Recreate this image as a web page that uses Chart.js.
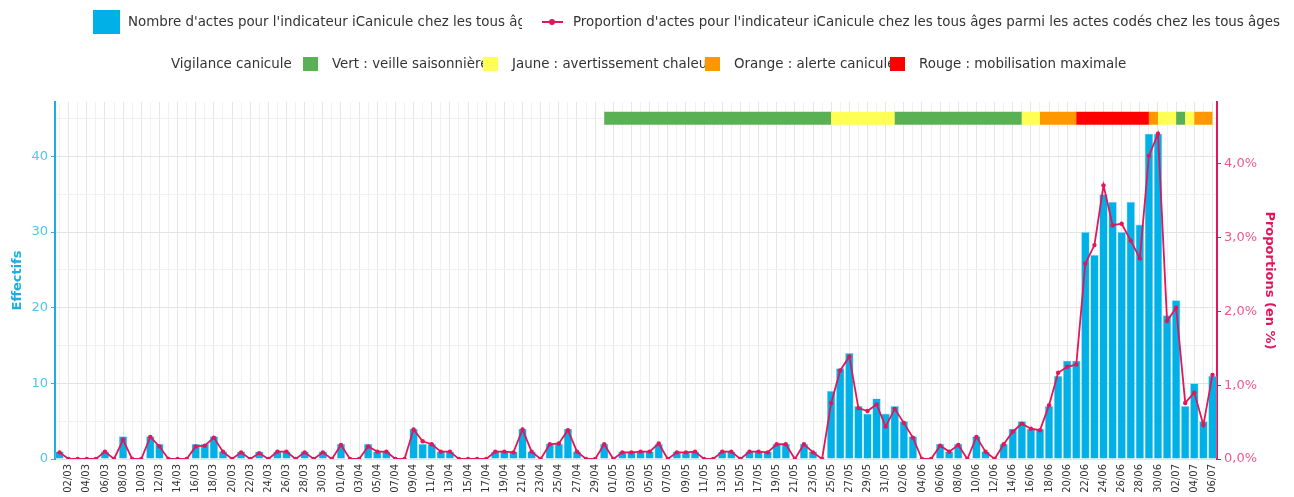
<!DOCTYPE html>
<html lang="fr">
<head>
<meta charset="utf-8">
<script src="https://cdn.jsdelivr.net/npm/chart.js@4.4.1/dist/chart.umd.min.js"></script>
<style>
body { margin: 0; background: #fff; font-family: "DejaVu Sans", sans-serif; }
#wrap { position: relative; width: 1294px; height: 497px; overflow: hidden; }
#wrap canvas { position: absolute; left: 0; top: 0; }
.lg { position: absolute; font-size: 13.4px; color: #333; white-space: nowrap; line-height: 16px; }
.sw { position: absolute; }
</style>
</head>
<body>
<div id="wrap">
  <canvas id="chart" width="1294" height="497"></canvas>

  <!-- legende ligne 1 -->
  <div class="lg" style="left:128px;top:14px;width:394px;overflow:hidden;">Nombre d'actes pour l'indicateur iCanicule chez les tous âges</div>
  <div class="sw" style="left:93px;top:10px;width:27px;height:24px;background:#00b0e6;"></div>
  <div class="sw" style="left:542px;top:21px;width:21px;height:2px;background:#e3165b;"></div>
  <div class="sw" style="left:549px;top:19px;width:6px;height:6px;border-radius:3px;background:#e3165b;"></div>
  <div class="lg" style="left:573px;top:14px;">Proportion d'actes pour l'indicateur iCanicule chez les tous âges parmi les actes codés chez les tous âges</div>

  <!-- legende ligne 2 -->
  <div class="lg" style="left:171px;top:56px;">Vigilance canicule</div>
  <div class="lg" style="left:332px;top:56px;">Vert : veille saisonnière</div>
  <div class="lg" style="left:512px;top:56px;">Jaune : avertissement chaleur</div>
  <div class="lg" style="left:734px;top:56px;">Orange : alerte canicule</div>
  <div class="lg" style="left:919px;top:56px;">Rouge : mobilisation maximale</div>
  <div class="sw" style="left:303px;top:57px;width:15px;height:14px;background:#5ab155;"></div>
  <div class="sw" style="left:483px;top:57px;width:15px;height:14px;background:#ffff55;"></div>
  <div class="sw" style="left:705px;top:57px;width:15px;height:14px;background:#ff9800;"></div>
  <div class="sw" style="left:890px;top:57px;width:15px;height:14px;background:#ff0000;"></div>
</div>

<script>
// Jours : du 01/03 au 06/07
let mois = [["03", 31], ["04", 30], ["05", 31], ["06", 30], ["07", 6]];
let jours = [];
mois.forEach(m => {
    for (let d = 1; d <= m[1]; d++) {
        jours.push(String(d).padStart(2, "0") + "/" + m[0]);
    }
});

// Nombre d'actes (effectifs)
let effectifs = [
    1, 0, 0, 0, 0, 1, 0, 3, 0, 0, 3, 2, 0, 0, 0, 2, 2, 3, 1, 0,
    1, 0, 1, 0, 1, 1, 0, 1, 0, 1, 0, 2, 0, 0, 2, 1, 1, 0, 0, 4,
    2, 2, 1, 1, 0, 0, 0, 0, 1, 1, 1, 4, 1, 0, 2, 2, 4, 1, 0, 0,
    2, 0, 1, 1, 1, 1, 2, 0, 1, 1, 1, 0, 0, 1, 1, 0, 1, 1, 1, 2,
    2, 0, 2, 1, 0, 9, 12, 14, 7, 6, 8, 6, 7, 5, 3, 0, 0, 2, 1, 2,
    0, 3, 1, 0, 2, 4, 5, 4, 4, 7, 11, 13, 13, 30, 27, 35, 34, 30, 34, 31,
    43, 43, 19, 21, 7, 10, 5, 11
];

// Proportion d'actes (en %)
let proportions = [
    0.09, 0, 0, 0, 0, 0.10, 0, 0.26, 0, 0, 0.30, 0.17, 0, 0, 0, 0.17, 0.18, 0.29, 0.10, 0,
    0.09, 0, 0.08, 0, 0.10, 0.10, 0, 0.09, 0, 0.09, 0, 0.19, 0, 0, 0.17, 0.10, 0.10, 0, 0, 0.40,
    0.24, 0.20, 0.10, 0.10, 0, 0, 0, 0, 0.10, 0.10, 0.09, 0.40, 0.10, 0, 0.20, 0.21, 0.39, 0.10, 0, 0,
    0.20, 0, 0.09, 0.09, 0.10, 0.10, 0.21, 0, 0.09, 0.09, 0.10, 0, 0, 0.10, 0.10, 0, 0.10, 0.10, 0.09, 0.20,
    0.20, 0, 0.20, 0.09, 0, 0.76, 1.20, 1.39, 0.69, 0.65, 0.74, 0.44, 0.68, 0.49, 0.29, 0, 0, 0.18, 0.10, 0.19,
    0, 0.30, 0.10, 0, 0.20, 0.37, 0.48, 0.41, 0.39, 0.73, 1.17, 1.25, 1.28, 2.65, 2.90, 3.71, 3.17, 3.19, 2.96, 2.72,
    4.11, 4.41, 1.87, 2.05, 0.76, 0.90, 0.46, 1.14
];

// Vigilance canicule, a partir du 30/04
let vigilanceDebut = "30/04";
let vigilance = [
    "V", "V", "V", "V", "V", "V", "V", "V", "V", "V", "V", "V", "V", "V", "V", "V", "V", "V", "V", "V",
    "V", "V", "V", "V", "V", "J", "J", "J", "J", "J", "J", "J", "V", "V", "V", "V", "V", "V", "V", "V",
    "V", "V", "V", "V", "V", "V", "J", "J", "O", "O", "O", "O", "R", "R", "R", "R", "R", "R", "R", "R",
    "O", "J", "J", "V", "J", "O", "O", "O"
];
let couleursVigilance = { V: "#5ab155", J: "#ffff55", O: "#ff9800", R: "#ff0000" };

let bleu = "#00b0e6";
let rose = "#e3165b";

// niveau par jour pour la bande du haut
let idxDebut = jours.indexOf(vigilanceDebut);
let niveauJour = jours.map((j, i) => (i >= idxDebut ? vigilance[i - idxDebut] : null));
let bande = niveauJour.map(n => (n ? 45.05 : null));

new Chart(document.getElementById("chart"), {
    data: {
        labels: jours,
        datasets: [
            {
                type: "line",
                label: "Vigilance",
                data: bande,
                yAxisID: "y",
                borderWidth: 13,
                borderCapStyle: "butt",
                pointRadius: 0,
                segment: {
                    borderColor: ctx => couleursVigilance[niveauJour[ctx.p0DataIndex]]
                },
                order: 1
            },
            {
                type: "line",
                label: "Proportion",
                data: proportions,
                yAxisID: "y2",
                borderColor: rose,
                backgroundColor: rose,
                borderWidth: 1.8,
                pointRadius: 2.2,
                pointBorderWidth: 0,
                tension: 0,
                order: 2
            },
            {
                type: "bar",
                label: "Nombre",
                data: effectifs,
                yAxisID: "y",
                backgroundColor: bleu,
                borderColor: "#7fd6f2",
                borderWidth: 0.6,
                barPercentage: 1,
                categoryPercentage: 0.92,
                order: 3
            }
        ]
    },
    options: {
        responsive: false,
        animation: false,
        layout: { padding: { top: 102, left: 0, right: 0, bottom: 0 } },
        plugins: {
            legend: { display: false },
            tooltip: { enabled: false }
        },
        scales: {
            x: {
                offset: true,
                grid: {
                    offset: false,
                    drawTicks: false,
                    color: ctx => (ctx.index % 2 === 1 ? "#e6e6e6" : "#f1f1f1")
                },
                border: { display: false },
                ticks: {
                    autoSkip: false,
                    maxRotation: 90,
                    minRotation: 90,
                    padding: 5,
                    color: "#333",
                    font: { family: "DejaVu Sans", size: 10 },
                    callback: function (v, i) { return i % 2 === 1 ? jours[i] : ""; }
                },
                afterFit: s => { s.height = 38; }
            },
            y: {
                position: "left",
                min: 0,
                max: 47.2,
                grid: {
                    color: ctx => (ctx.tick && ctx.tick.value % 10 === 0 ? "#e4e4e4" : "#f1f1f1"),
                    tickColor: ctx => (ctx.tick && ctx.tick.value % 10 === 0 ? "#29b6e8" : "rgba(0,0,0,0)"),
                    tickLength: 4
                },
                border: { display: true, color: "#1baee5", width: 2 },
                ticks: {
                    stepSize: 5,
                    includeBounds: false,
                    padding: 3,
                    color: "#4fc6f0",
                    font: { family: "DejaVu Sans", size: 13 },
                    callback: v => (v % 10 === 0 ? String(v) : "")
                },
                title: {
                    display: true,
                    text: "Effectifs",
                    color: "#1baee5",
                    font: { family: "DejaVu Sans", size: 13, weight: "bold" },
                    padding: { top: 10, bottom: 2 }
                },
                afterFit: s => { s.width = 55; }
            },
            y2: {
                position: "right",
                min: 0,
                max: 4.84,
                grid: {
                    drawOnChartArea: false,
                    tickColor: rose,
                    tickLength: 4
                },
                border: { display: true, color: rose, width: 2 },
                ticks: {
                    stepSize: 1,
                    includeBounds: false,
                    padding: 3,
                    color: "#f0588a",
                    font: { family: "DejaVu Sans", size: 13 },
                    callback: v => v.toFixed(1).replace(".", ",") + "%"
                },
                title: {
                    display: true,
                    text: "Proportions (en %)",
                    color: rose,
                    font: { family: "DejaVu Sans", size: 13, weight: "bold" },
                    padding: { top: 17, bottom: 0 }
                },
                afterFit: s => { s.width = 77; }
            }
        }
    }
});
</script>
</body>
</html>
